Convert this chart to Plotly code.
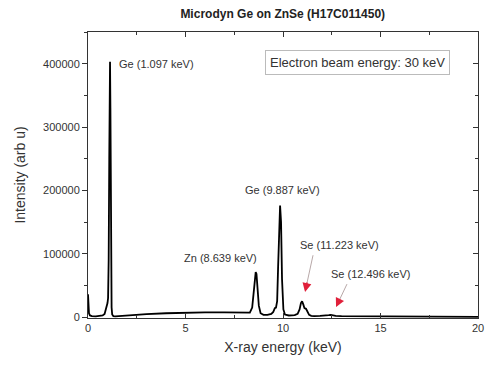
import plotly.graph_objects as go

# Spectrum trace (energy in keV, intensity in arb u)
energy = [0.0, 0.02, 0.05, 0.1, 0.2, 0.4, 0.6, 0.75, 0.85, 0.92, 0.97, 1.0, 1.03,
          1.06, 1.09, 1.11, 1.13, 1.15, 1.17, 1.19, 1.21, 1.24, 1.3, 1.4, 1.6,
          2.0, 2.5, 3.0, 4.0, 5.0, 6.0, 7.0, 7.6, 8.0, 8.3, 8.42, 8.5, 8.56,
          8.6, 8.64, 8.7, 8.76, 8.85, 9.0, 9.2, 9.4, 9.5, 9.58, 9.64, 9.7,
          9.75, 9.8, 9.85, 9.9, 9.95, 10.02, 10.1, 10.3, 10.6, 10.75, 10.85,
          10.92, 10.98, 11.04, 11.1, 11.18, 11.26, 11.34, 11.45, 11.6, 11.9,
          12.2, 12.35, 12.45, 12.55, 12.7, 13.0, 14.0, 15.0, 16.0, 17.0,
          18.0, 19.0, 20.0]
intensity = [36000, 20000, 6000, 2500, 1500, 1200, 1500, 2500, 5000, 12000,
             20000, 22000, 30000, 90000, 250000, 380000, 403000, 330000,
             180000, 60000, 15000, 4000, 1500, 1000, 1500, 2500, 3500, 4500,
             6000, 7000, 7500, 7500, 7000, 6500, 7000, 15000, 40000, 65000,
             71000, 68000, 45000, 18000, 6000, 3500, 3500, 5000, 8000, 14000,
             15000, 25000, 80000, 150000, 176000, 150000, 60000, 12000, 4000,
             2500, 3000, 5000, 12000, 22000, 25000, 20000, 14000, 13000, 7000,
             3500, 2000, 1500, 1800, 2000, 3000, 3500, 3000, 1800, 1500,
             1200, 1000, 800, 600, 400, 300, 200]

x_ticks = [0, 5, 10, 15, 20]
y_ticks = [0, 100000, 200000, 300000, 400000]
y_tick_text = ["0", "100000", "200000", "300000", "400000"]

title = "<b>Microdyn Ge on ZnSe (H17C011450)</b>"
x_title = "X-ray energy (keV)"
y_title = "Intensity (arb u)"

# Peak labels: (text, x, y, xanchor)
peak_labels = [
    ("Ge (1.097 keV)", 1.49, 400000, "left"),
    ("Ge (9.887 keV)", 9.95, 201000, "center"),
    ("Zn (8.639 keV)", 6.77, 93000, "center"),
    ("Se (11.223 keV)", 12.9, 114000, "center"),
    ("Se (12.496 keV)", 14.5, 68000, "center"),
]
# Arrows: (tail x, tail y, head x, head y)
arrows = [
    (11.54, 97600, 11.13, 39400),
    (13.28, 52000, 12.72, 15700),
]

FONT = "Liberation Sans, Arial, sans-serif"
fig = go.Figure()
fig.add_trace(go.Scatter(x=energy, y=intensity, mode="lines",
                         line=dict(color="black", width=1.8),
                         showlegend=False, hoverinfo="skip"))
fig.add_trace(go.Scatter(x=[energy[0]], y=[intensity[0]], yaxis="y2",
                         mode="lines", line=dict(width=0), showlegend=False,
                         hoverinfo="skip"))

for text, x, y, anchor in peak_labels:
    fig.add_annotation(x=x, y=y, text=text, showarrow=False, xanchor=anchor,
                       yanchor="middle", font=dict(size=11, color="#333",
                                                    family=FONT))
for tx, ty, hx, hy in arrows:
    fig.add_shape(type="line", x0=tx, y0=ty, x1=hx + (tx - hx) * 0.25,
                  y1=hy + (ty - hy) * 0.25,
                  line=dict(color="#b8a8a8", width=1))
    fig.add_annotation(x=hx, y=hy, ax=hx + (tx - hx) * 0.3,
                       ay=hy + (ty - hy) * 0.3, axref="x", ayref="y",
                       xref="x", yref="y", text="", showarrow=True,
                       arrowhead=2, arrowsize=1.2, arrowwidth=1.5,
                       arrowcolor="#e0203a")

fig.add_annotation(x=0.692, y=0.893, xref="paper", yref="paper",
                   xanchor="center", yanchor="middle",
                   text="Electron beam energy: 30 keV", showarrow=False,
                   font=dict(size=13, color="#333", family=FONT),
                   bordercolor="#bbb", borderwidth=1, borderpad=4,
                   bgcolor="white")

fig.update_layout(
    width=485, height=370,
    margin=dict(l=88, r=7, t=32, b=52, autoexpand=False),
    paper_bgcolor="white", plot_bgcolor="white",
    font=dict(family=FONT, color="#333"),
    title=dict(text=title, x=0.583, xanchor="center", y=0.962,
               yanchor="middle", font=dict(size=12, color="#222", family=FONT)),
    xaxis=dict(range=[0, 20], tickvals=x_ticks, ticks="inside", ticklen=5,
               tickcolor="#333", showline=True, linecolor="#333",
               linewidth=1, mirror="ticks", showgrid=False, zeroline=False,
               automargin=False,
               tickfont=dict(size=11, color="#333"),
               minor=dict(dtick=2.5, tick0=0, ticks="inside", ticklen=3,
                          tickcolor="#333", showgrid=False),
               title=dict(text=x_title, font=dict(size=14, color="#333"),
                          standoff=8)),
    yaxis=dict(range=[-1500, 450000], tickvals=y_ticks, ticktext=y_tick_text,
               ticks="outside", automargin=False,
               ticklen=5, tickcolor="#333", showline=True, linecolor="#333",
               linewidth=1, mirror=True, showgrid=False, zeroline=False,
               tickfont=dict(size=11, color="#333"),
               minor=dict(dtick=50000, tick0=0, ticks="outside", ticklen=3,
                          tickcolor="#333", showgrid=False),
               title=dict(text=y_title, font=dict(size=14, color="#333"),
                          standoff=14)),
    yaxis2=dict(overlaying="y", side="right", matches="y",
                range=[-1500, 450000], tickvals=y_ticks, ticks="inside",
                ticklen=5, tickcolor="#333", showticklabels=False,
                showline=False, showgrid=False, zeroline=False,
                automargin=False,
                minor=dict(dtick=50000, tick0=0, ticks="inside", ticklen=3,
                           tickcolor="#333", showgrid=False)),
)

fig.write_html("out.html")
